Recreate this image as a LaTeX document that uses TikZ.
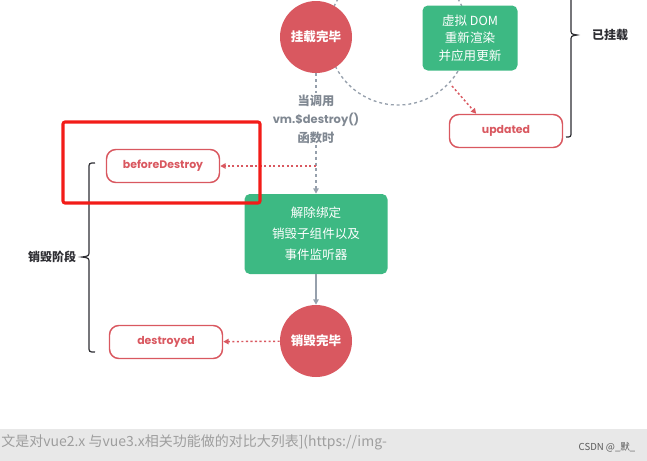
\documentclass[tikz,border=0pt]{standalone}
\usepackage{fontspec}
\setmainfont{Noto Sans CJK SC}
\newfontfamily\latin{Poppins}
\usetikzlibrary{arrows.meta,calc}
\definecolor{rosy}{RGB}{217,88,96}
\definecolor{mint}{RGB}{61,185,131}
\definecolor{slate}{RGB}{150,160,172}
\definecolor{ink}{RGB}{45,45,50}
\definecolor{alarm}{RGB}{242,28,24}
\definecolor{band}{RGB}{232,232,232}
\tikzset{
  >={Triangle[length=4pt,width=4pt]},
  done/.style={circle,fill=rosy,text=white,minimum size=54pt,inner sep=0pt,
    font=\fontsize{9.4}{12}\selectfont\bfseries},
  render/.style={fill=mint,text=white,rounded corners=4pt,align=center,
    font=\fontsize{9.4}{13}\selectfont},
  hook/.style={draw=rosy,line width=1.1pt,rounded corners=7pt,minimum width=84.75pt,
    minimum height=24.75pt,text=rosy,font=\latin\fontsize{8.2}{10}\selectfont\bfseries},
  loopline/.style={draw=slate,line width=1pt,dash pattern=on 2.2pt off 2.2pt},
  calltrace/.style={loopline,->},
  pass/.style={->,draw=slate,line width=1.1pt},
  fire/.style={->,draw=rosy,line width=1.1pt,dash pattern=on 1.6pt off 1.8pt},
  calltext/.style={text=slate!85!black,align=center,inner sep=1pt,
    font=\fontsize{9.2}{13.9}\selectfont\bfseries},
  brace line/.style={draw=ink,line width=0.9pt},
  phase/.style={text=ink,font=\fontsize{9}{11}\selectfont\bfseries},
  spot/.style={draw=alarm,line width=2.3pt,rounded corners=1.5pt},
}

\begin{document}
\begin{tikzpicture}[x=0.75pt,y=-0.75pt]
  \useasboundingbox (0,0) rectangle (647,461);
  \clip (0,0) rectangle (647,461);
  % update loop
  \draw[loopline] (398,35) circle[radius=52.5pt];
  \node[done] (mounted) at (316,37) {挂载完毕};
  \node[render,minimum width=71.25pt,minimum height=48.75pt] (rerender) at (470,38) {虚拟 DOM\\重新渲染\\并应用更新};
  \node[hook] (updated) at (506,131) {updated};
  \coordinate (leave) at (452,86);
  \draw[fire] (leave) -- ($(updated.north west)!0.24!(updated.north east)$);
  % mounted brace
  \draw[brace line] (566,137) .. controls (571,137) .. (571,132) -- (571,41)
    .. controls (571,36) .. (577,35) .. controls (571,34) .. (571,29) -- (571,-5);
  \node[phase] (mountlabel) at (610,35) {已挂载};
  % destroy phase
  \node[calltext] (when) at (316,119) {当调用\\{\latin\fontsize{8.6}{13.9}\selectfont vm.\$destroy()}\\函数时};
  \node[render,minimum width=107.25pt,minimum height=60pt,font=\fontsize{9.4}{15.7}\selectfont] (teardown) at (316,234) {解除绑定\\销毁子组件以及\\事件监听器};
  \node[done] (destroyed done) at (316,341) {销毁完毕};
  \node[hook] (before) at (163,166) {beforeDestroy};
  \node[hook] (destroyed) at (166,342) {destroyed};
  \coordinate (branch) at (316,166);
  \draw[loopline] (mounted) -- (when);
  \draw[calltrace] (when) -- (teardown);
  \draw[fire] (branch) -- (before);
  \draw[pass] (teardown) -- (destroyed done);
  \draw[fire] (destroyed done) -- (destroyed);
  \draw[brace line] (95,163) .. controls (89,163) .. (89,169) -- (89,251)
    .. controls (89,256) .. (82,257) .. controls (89,258) .. (89,263) -- (89,346)
    .. controls (89,352) .. (95,352);
  \node[phase] (destroylabel) at (52,257) {销毁阶段};
  \draw[spot] (63,122) rectangle (260,203);
  % page strip
  \fill[band] (0,429) rectangle (647,461);
  \node[anchor=west,text=black!38,inner sep=0pt,font=\fontsize{10.5}{12}\selectfont] (note) at (1,442) {文是对vue2.x 与vue3.x相关功能做的对比大列表](https://img-};
  \node[text=black!65,inner sep=0pt,font=\fontsize{7.2}{9}\selectfont] (sign) at (607,447) {CSDN @\_默\_};
\end{tikzpicture}
\end{document}
